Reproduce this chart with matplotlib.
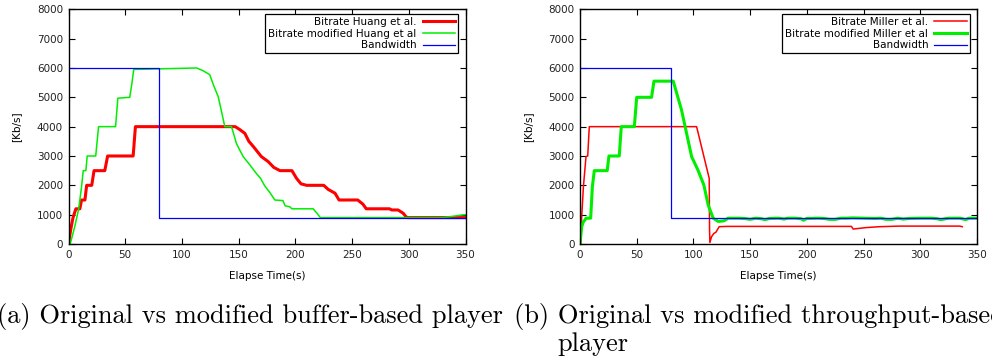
import matplotlib
matplotlib.use('Agg')
import matplotlib.pyplot as plt

# (a) buffer-based player
huang_t = [0, 2, 4, 6.5, 10, 11.5, 14.5, 16, 20.5, 22.5, 32, 34.5, 57, 59, 147, 151, 155.5, 159,
           163, 170, 176, 181, 186.5, 197, 201, 205, 210, 225, 229, 235, 238.5, 255, 259.5, 262.5,
           283, 285, 290.5, 295, 297.5, 299, 350]
huang_v = [0, 500, 900, 1200, 1200, 1500, 1500, 2000, 2000, 2500, 2500, 3000, 3000, 4000, 4000, 3900,
           3770, 3500, 3320, 2980, 2810, 2610, 2500, 2500, 2240, 2050, 2000, 2000, 1860, 1730, 1500,
           1500, 1360, 1200, 1200, 1160, 1160, 1050, 930, 900, 900]

mod_huang_t = [0, 1.5, 5.5, 9, 10, 11.5, 13, 15.3, 16.5, 24, 26.5, 41.5, 43.5, 54, 56, 57.5, 113, 119,
               124.5, 128, 132, 135, 137.8, 143.7, 146, 148, 151, 154, 160, 165.5, 169.3, 173, 177.6,
               181.9, 189, 191, 195, 197, 215.7, 219, 222, 330, 334, 340, 345, 350]
mod_huang_v = [0, 0, 590, 1200, 1500, 1950, 2500, 2500, 3000, 3000, 4000, 4000, 4970, 5000, 5500, 5950,
               6000, 5900, 5770, 5400, 5020, 4500, 4000, 4000, 3700, 3430, 3200, 2980, 2690, 2410, 2240,
               1980, 1750, 1500, 1480, 1300, 1270, 1200, 1200, 1050, 900, 900, 920, 950, 980, 1000]

# (b) throughput-based player
miller_t = [0, 0.6, 1.5, 3, 5.3, 6.8, 8.2, 102.8, 113.9, 114.2, 114.5, 116, 118, 119.8, 122.7, 130,
            239.3, 240.8, 252.5, 264, 282, 334.7, 337]
miller_v = [0, 0, 930, 1950, 2980, 3000, 4000, 4000, 2240, 500, 50, 250, 360, 400, 590, 600,
            600, 510, 560, 590, 610, 610, 590]

mod_miller_t = [0, 1.5, 3, 4.4, 5.3, 9.4, 10.9, 12.6, 24, 25.5, 34.6, 36.4, 47.9, 50, 63.1, 65.2, 82.2,
                89.5, 98.4, 104.2, 109.2, 113, 117.4, 121.8, 127, 130.6,
                140, 145, 150, 155, 160, 163, 167, 175, 180, 183, 190, 195, 197, 200, 210, 215, 220,
                225, 230, 235, 240, 250, 260, 265, 270, 275, 280, 285, 290, 300, 310, 315, 318, 325,
                335, 340, 343, 350]
mod_miller_v = [0, 590, 760, 820, 880, 880, 1950, 2500, 2500, 3000, 3000, 4000, 4000, 5000, 5000, 5550,
                5550, 4570, 2980, 2500, 2010, 1330, 880, 770, 790, 880,
                880, 870, 840, 880, 860, 830, 870, 880, 850, 880, 880, 860, 810, 870, 880, 870, 840,
                840, 880, 880, 890, 880, 870, 880, 840, 840, 880, 850, 870, 880, 880, 860, 830, 880,
                880, 830, 880, 880]

bw_t = [0, 80, 80, 350]
bw_v = [6000, 6000, 900, 900]

x_ticks = [0, 50, 100, 150, 200, 250, 300, 350]
y_ticks = [0, 1000, 2000, 3000, 4000, 5000, 6000, 7000, 8000]

W, H = 992, 363
fig = plt.figure(figsize=(W / 100, H / 100), dpi=100)


def make_axes(left_px):
    ax = fig.add_axes([left_px / W, 1 - 244 / H, 397 / W, 234.7 / H])
    ax.set_xlim(0, 350)
    ax.set_ylim(0, 8000)
    ax.set_xticks(x_ticks)
    ax.set_yticks(y_ticks)
    ax.tick_params(direction='in', length=4, width=0.8, top=True, right=True,
                   labelsize=7.5, labelcolor='#222222', pad=4)
    for s in ax.spines.values():
        s.set_linewidth(1.0)
        s.set_color('black')
    ax.set_xlabel('Elapse Time(s)', fontsize=7.5, labelpad=8)
    ax.set_ylabel('[Kb/s]', fontsize=7.5, labelpad=11)
    return ax


def add_legend(ax):
    leg = ax.legend(loc='upper right', bbox_to_anchor=(0.982, 0.98), borderaxespad=0,
                    markerfirst=False, fontsize=7.5, handlelength=3.1, handletextpad=0.6,
                    labelspacing=0.15, borderpad=0.3, fancybox=False, framealpha=1,
                    edgecolor='black')
    leg.get_frame().set_linewidth(0.9)


ax1 = make_axes(68.5)
ax1.plot(huang_t, huang_v, color='#ff0000', lw=2.2, label='Bitrate Huang et al.')
ax1.plot(mod_huang_t, mod_huang_v, color='#00ee00', lw=1.1, label='Bitrate modified Huang et al')
ax1.plot(bw_t, bw_v, color='#0000ff', lw=0.9, label='Bandwidth')
add_legend(ax1)

ax2 = make_axes(580)
ax2.plot(miller_t, miller_v, color='#ff0000', lw=1.1, label='Bitrate Miller et al.')
ax2.plot(mod_miller_t, mod_miller_v, color='#00ee00', lw=2.2, label='Bitrate modified Miller et al')
ax2.plot(bw_t, bw_v, color='#0000ff', lw=0.9, label='Bandwidth')
add_legend(ax2)

# sub-captions, as in the paper (the second one runs off the right edge)
cap = dict(fontfamily='cmr10', fontsize=19, va='baseline', ha='left', color='black')
fig.text(-3 / W, 1 - 323 / H, '(a) Original vs modified buffer-based player', **cap)
fig.text(514 / W, 1 - 323 / H, '(b) Original vs modified throughput-based', **cap)
fig.text(557 / W, 1 - 351 / H, 'player', **cap)

fig.savefig('out.png', dpi=100)
